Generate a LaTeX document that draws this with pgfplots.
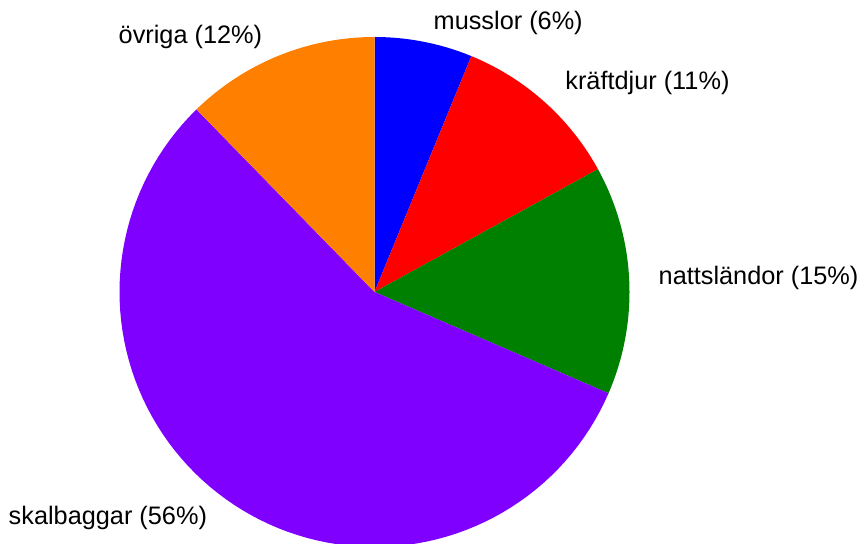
\documentclass[border=0pt]{standalone}
\usepackage{pgfplots}
\pgfplotsset{compat=1.18}
\usepackage{fontspec}
\setmainfont{Liberation Sans}
\definecolor{cmuss}{RGB}{0,0,255}
\definecolor{ckraft}{RGB}{255,0,0}
\definecolor{cnatt}{RGB}{0,128,0}
\definecolor{cskal}{RGB}{128,0,255}
\definecolor{covr}{RGB}{255,128,0}
% shares (percent), clockwise from 12 o'clock
\def\pMuss{6.2}
\def\pKraft{10.8}
\def\pNatt{14.5}
\def\pSkal{56.2}
\def\pOvr{12.3}
\pgfmathsetmacro\aA{90}
\pgfmathsetmacro\aB{\aA-3.6*\pMuss}
\pgfmathsetmacro\aC{\aB-3.6*\pKraft}
\pgfmathsetmacro\aD{\aC-3.6*\pNatt}
\pgfmathsetmacro\aE{\aD-3.6*\pSkal}
\pgfmathsetmacro\aF{\aE-3.6*\pOvr}
\def\cx{374.5}
\def\cy{252}
\def\R{255}
\newcommand\slice[3]{%
  \addplot[fill=#3, draw=none, domain=#2:#1, samples=90, variable=\t]
    ({\cx+\R*cos(\t)},{\cy+\R*sin(\t)}) -- (axis cs:\cx,\cy) -- cycle;}
\begin{document}
\begin{tikzpicture}
\begin{axis}[
  scale only axis, width=430.5pt, height=272pt,
  xmin=0, xmax=861, ymin=0, ymax=544,
  hide axis, clip=true,
]
\path (rel axis cs:0,0) rectangle (rel axis cs:1,1);
\slice{\aA}{\aB}{cmuss}
\slice{\aB}{\aC}{ckraft}
\slice{\aC}{\aD}{cnatt}
\slice{\aD}{\aE}{cskal}
\slice{\aE}{\aF}{covr}
\begin{scope}[every node/.style={anchor=base west, inner sep=0pt, font=\fontsize{12.65}{15}\selectfont}]
\node at (axis cs:433.3,514.7) {musslor (6\%)};
\node at (axis cs:565,454.7) {kräftdjur (11\%)};
\node at (axis cs:658.3,259) {nattsländor (15\%)};
\node at (axis cs:8.3,19) {skalbaggar (56\%)};
\node at (axis cs:118.3,500.7) {övriga (12\%)};
\end{scope}
\end{axis}
\end{tikzpicture}
\end{document}
